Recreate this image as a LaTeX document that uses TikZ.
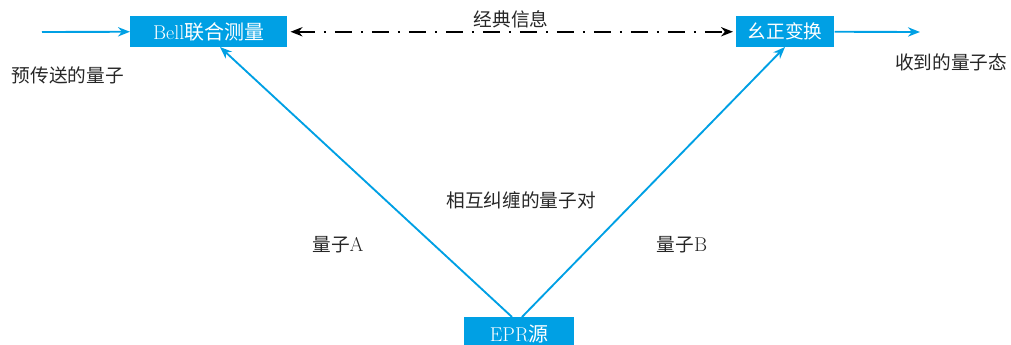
\documentclass[tikz,border=0pt]{standalone}
\usepackage{fontspec}
\newfontfamily\cjk{Noto Sans CJK SC}
\usetikzlibrary{arrows.meta}
\definecolor{qcyan}{HTML}{00A0E4}
\begin{document}
\begin{tikzpicture}[x=0.75pt,y=-0.75pt,
  font=\fontsize{14}{16}\selectfont,
  qbox/.style={fill=qcyan,draw=none,text=white,inner sep=0pt,anchor=north west},
  qarrow/.style={draw=qcyan,line width=1.4pt,-{Stealth[length=9pt,width=7pt]}},
  classic/.style={draw=black,line width=1.4pt,{Stealth[length=9pt,width=7pt]}-{Stealth[length=9pt,width=7pt]},
     dash pattern=on 12.75pt off 6.75pt on 1.5pt off 6.75pt},
  lbl/.style={inner sep=0pt,text=black!85}]
\useasboundingbox (0,0) rectangle (1011,345);
\node[qbox,minimum width=157*0.75pt,minimum height=31*0.75pt] (bell) at (130,16) {\fontsize{15}{16}\selectfont Bell{\cjk 联合测量}};
\node[qbox,minimum width=98*0.75pt,minimum height=31*0.75pt] (unit) at (736,16) {\cjk 幺正变换};
\node[qbox,minimum width=110*0.75pt,minimum height=34*0.75pt] (epr) at (464,317) {\fontsize{15}{16}\selectfont EPR{\cjk 源}};
\coordinate (in) at (42,32);
\coordinate (out) at (920,32);
\draw[qarrow] (in) -- (bell.west);
\draw[qarrow] (unit.east) -- (out);
\draw[classic] ([xshift=3*0.75pt]bell.east) -- ([xshift=-3*0.75pt]unit.west);
\coordinate (ea) at (512,317);
\coordinate (eb) at (522,317);
\draw[qarrow] (ea) -- (220,47);
\draw[qarrow] (eb) -- (785,47);
\node[lbl] (l1) at (68,75) {\cjk 预传送的量子};
\node[lbl] (l2) at (951,62) {\cjk 收到的量子态};
\node[lbl] (l3) at (511,19) {\cjk 经典信息};
\node[lbl] (l4) at (521,200) {\cjk 相互纠缠的量子对};
\node[lbl] (l5) at (338,245) {{\cjk 量子}\fontsize{15}{16}\selectfont A};
\node[lbl] (l6) at (682,245) {{\cjk 量子}\fontsize{15}{16}\selectfont B};
\end{tikzpicture}
\end{document}
